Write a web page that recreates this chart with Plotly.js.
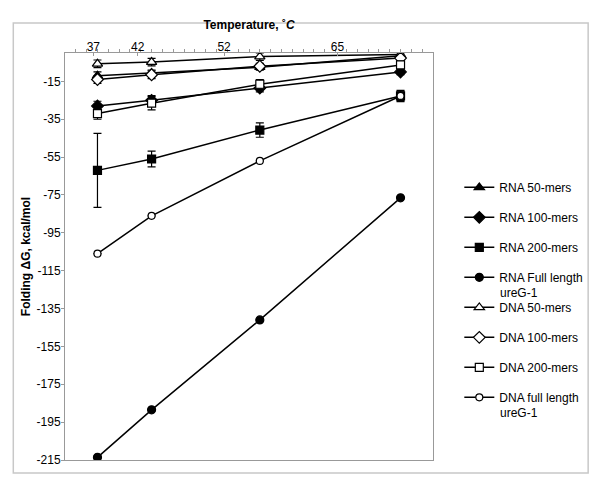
<!DOCTYPE html>
<html>
<head>
<meta charset="utf-8">
<script src="https://cdn.plot.ly/plotly-3.0.1.min.js"></script>
<style>html,body{margin:0;padding:0;background:#fff;}#chart{width:600px;height:489px;}</style>
</head>
<body>
<div id="chart"></div>
<script>
// ---- data ----
const temperatures = [37, 42, 52, 65];
const seriesNames = [
  'RNA 50-mers', 'RNA 100-mers', 'RNA 200-mers', 'RNA Full length',
  'DNA 50-mers', 'DNA 100-mers', 'DNA 200-mers', 'DNA full length'
];
const seriesNameSecondLine = ['', '', '', 'ureG-1', '', '', '', 'ureG-1'];
const rna50 = [-12, -10.5, -7.5, -1.5];
const rna100 = [-28, -25, -18.5, -10];
const rna200 = [-62, -56, -40.7, -22.7];
const rnaFull = [-213.6, -188.5, -141, -76.5];
const dna50 = [-5.7, -4.8, -1.9, -0.8];
const dna100 = [-14, -11.5, -7, -2.7];
const dna200 = [-32, -26.5, -16.5, -6.3];
const dnaFull = [-106, -86, -57, -22.7];
const rna50Err = [2, 1.5, 1.5, 1.5];
const rna100Err = [2.5, 2.5, 2, 1.5];
const rna200Err = [19.5, 4.2, 3.8, 2.5];
const rnaFullErr = [0, 0, 0, 0];
const dna50Err = [2, 2, 2, 1.5];
const dna100Err = [2, 2, 1.5, 1.5];
const dna200Err = [3, 3.5, 2.5, 2];
const dnaFullErr = [0, 0, 0, 3];
const xTickLabels = ['37', '42', '52', '65'];
const yTickValues = [-15, -35, -55, -75, -95, -115, -135, -155, -175, -195, -215];
const yTickLabels = ['-15', '-35', '-55', '-75', '-95', '-115', '-135', '-155', '-175', '-195', '-215'];

// ---- styling ----
const values = [rna50, rna100, rna200, rnaFull, dna50, dna100, dna200, dnaFull];
const errs = [rna50Err, rna100Err, rna200Err, rnaFullErr, dna50Err, dna100Err, dna200Err, dnaFullErr];
const symbols = ['triangle-up', 'diamond', 'square', 'circle', 'triangle-up', 'diamond', 'square', 'circle'];
const fills = ['#000', '#000', '#000', '#000', '#fff', '#fff', '#fff', '#fff'];
const sizes = [9, 9, 8, 8, 9, 9, 8, 7];

const traces = values.map((v, i) => ({
  type: 'scatter',
  mode: 'lines+markers',
  x: temperatures,
  y: v,
  name: seriesNames[i],
  legendgroup: 'g' + i,
  line: {color: '#000', width: 1.5},
  marker: {symbol: symbols[i], size: sizes[i], color: fills[i], line: {color: '#000', width: 1.2}},
  error_y: {type: 'data', array: errs[i], visible: true, color: '#000', thickness: 1.2, width: 4}
}));

const font = 'Liberation Sans, Arial, sans-serif';
const xTickPositions = [36.62, 40.71, 48.7, 59.18];

// second legend lines placed under their legend entries
const legendTop = 0.705, itemStepPx = 30, plotH = 407;
const annotations = [];
seriesNameSecondLine.forEach((t, i) => {
  if (!t) return;
  annotations.push({
    text: t, xref: 'paper', yref: 'paper', x: 1.1757, xanchor: 'left',
    y: (460 - (188 + i * itemStepPx + 15)) / plotH, yanchor: 'middle',
    showarrow: false, font: {family: font, size: 12, color: '#000'}
  });
});

const layout = {
  width: 600, height: 489,
  margin: {l: 65, r: 165, t: 53, b: 29},
  paper_bgcolor: '#fff', plot_bgcolor: '#fff',
  font: {family: font, size: 12, color: '#000'},
  showlegend: true,
  legend: {x: 1.0715, xanchor: 'left', y: legendTop, yanchor: 'top', font: {family: font, size: 12},
           tracegroupgap: 11, valign: 'top', itemwidth: 30, bgcolor: 'rgba(0,0,0,0)'},
  xaxis: {
    side: 'top', range: [34, 68], showgrid: false, zeroline: false,
    tickmode: 'array', tickvals: xTickPositions, ticktext: xTickLabels,
    ticks: 'inside', ticklen: 3, tickcolor: '#999', tickfont: {size: 12}, ticklabelstandoff: -4,
    minor: {dtick: 1, tick0: 34, ticks: 'outside', ticklen: 3, tickcolor: '#999', showgrid: false},
    showline: true, linecolor: '#999', linewidth: 1, mirror: true,
    title: {text: '<b>Temperature, ˚<i>C</i></b>', font: {size: 12}, standoff: 8}
  },
  yaxis: {
    range: [-215, 0], showgrid: false, zeroline: false,
    tickmode: 'array', tickvals: yTickValues, ticktext: yTickLabels,
    ticks: 'outside', ticklen: 3, tickcolor: '#999', tickfont: {size: 12}, ticklabelstandoff: -2,
    showline: true, linecolor: '#999', linewidth: 1, mirror: true,
    title: {text: '<b>Folding ΔG, kcal/mol</b>', font: {size: 12}, standoff: 3}
  },
  annotations: annotations,
  shapes: [{type: 'rect', xref: 'paper', yref: 'paper', x0: -0.1405, x1: 1.4216, y0: -0.0319, y1: 1.0737,
            line: {color: '#c8c8c8', width: 1.5}, fillcolor: 'rgba(0,0,0,0)'}]
};

Plotly.newPlot('chart', traces, layout, {displayModeBar: false, staticPlot: true});
</script>
</body>
</html>
